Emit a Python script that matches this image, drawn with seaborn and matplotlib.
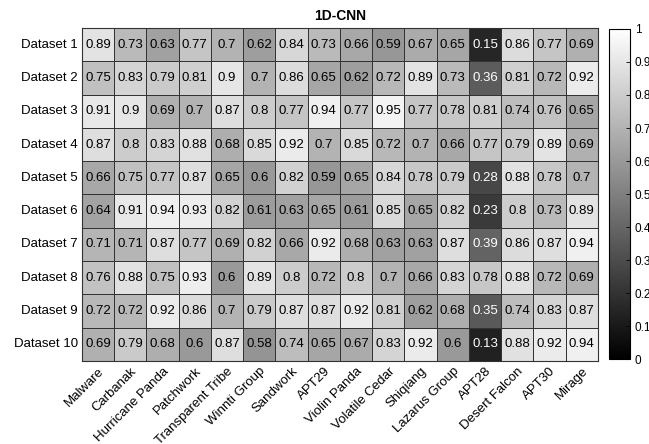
import numpy as np
import pandas as pd
import seaborn as sns
import matplotlib.pyplot as plt

plt.rcParams['font.family'] = ['Liberation Sans', 'DejaVu Sans']
plt.rcParams['font.size'] = 9.5

groups = ['Malware', 'Carbanak', 'Hurricane Panda', 'Patchwork', 'Transparent Tribe',
          'Winnti Group', 'Sandwork', 'APT29', 'Violin Panda', 'Volatile Cedar',
          'Shiqiang', 'Lazarus Group', 'APT28', 'Desert Falcon', 'APT30', 'Mirage']
datasets = [f'Dataset {i}' for i in range(1, 11)]

ds1 = [0.89, 0.73, 0.63, 0.77, 0.7, 0.62, 0.84, 0.73, 0.66, 0.59, 0.67, 0.65, 0.15, 0.86, 0.77, 0.69]
ds2 = [0.75, 0.83, 0.79, 0.81, 0.9, 0.7, 0.86, 0.65, 0.62, 0.72, 0.89, 0.73, 0.36, 0.81, 0.72, 0.92]
ds3 = [0.91, 0.9, 0.69, 0.7, 0.87, 0.8, 0.77, 0.94, 0.77, 0.95, 0.77, 0.78, 0.81, 0.74, 0.76, 0.65]
ds4 = [0.87, 0.8, 0.83, 0.88, 0.68, 0.85, 0.92, 0.7, 0.85, 0.72, 0.7, 0.66, 0.77, 0.79, 0.89, 0.69]
ds5 = [0.66, 0.75, 0.77, 0.87, 0.65, 0.6, 0.82, 0.59, 0.65, 0.84, 0.78, 0.79, 0.28, 0.88, 0.78, 0.7]
ds6 = [0.64, 0.91, 0.94, 0.93, 0.82, 0.61, 0.63, 0.65, 0.61, 0.85, 0.65, 0.82, 0.23, 0.8, 0.73, 0.89]
ds7 = [0.71, 0.71, 0.87, 0.77, 0.69, 0.82, 0.66, 0.92, 0.68, 0.63, 0.63, 0.87, 0.39, 0.86, 0.87, 0.94]
ds8 = [0.76, 0.88, 0.75, 0.93, 0.6, 0.89, 0.8, 0.72, 0.8, 0.7, 0.66, 0.83, 0.78, 0.88, 0.72, 0.69]
ds9 = [0.72, 0.72, 0.92, 0.86, 0.7, 0.79, 0.87, 0.87, 0.92, 0.81, 0.62, 0.68, 0.35, 0.74, 0.83, 0.87]
ds10 = [0.69, 0.79, 0.68, 0.6, 0.87, 0.58, 0.74, 0.65, 0.67, 0.83, 0.92, 0.6, 0.13, 0.88, 0.92, 0.94]

df = pd.DataFrame([ds1, ds2, ds3, ds4, ds5, ds6, ds7, ds8, ds9, ds10],
                  index=datasets, columns=groups)

fig = plt.figure(figsize=(6.49, 4.44), dpi=100)
ax = fig.add_axes([0.1263, 0.187, 0.795, 0.750])
cax = fig.add_axes([0.9384, 0.1914, 0.0324, 0.7433])

sns.heatmap(df, ax=ax, cbar_ax=cax, cmap='gray', vmin=0, vmax=1,
            annot=True, fmt='g', annot_kws={'fontsize': 9.5},
            linewidths=0.6, linecolor='#333333',
            cbar_kws={'ticks': np.arange(0, 1.01, 0.1)})

# dark cells get white labels
for t in ax.texts:
    t.set_color('white' if float(t.get_text()) < 0.45 else 'black')

for s in ax.spines.values():
    s.set_visible(True)
    s.set_color('#333333')
    s.set_linewidth(0.8)

ax.set_title('1D-CNN', fontsize=10, fontweight='bold', pad=6)
ax.tick_params(length=0, pad=3)
ax.set_yticklabels(datasets, rotation=0)
ax.set_xticklabels(groups, rotation=45, ha='right', rotation_mode='anchor')
ax.set_xlabel('')
ax.set_ylabel('')

cb = ax.collections[0].colorbar
cb.set_ticklabels(['0', '0.1', '0.2', '0.3', '0.4', '0.5', '0.6', '0.7', '0.8', '0.9', '1'])
cb.ax.tick_params(labelsize=8.5, length=3, direction='in', width=0.6)
cb.outline.set_edgecolor('black')
cb.outline.set_linewidth(0.8)

fig.savefig('out.png', dpi=100)
